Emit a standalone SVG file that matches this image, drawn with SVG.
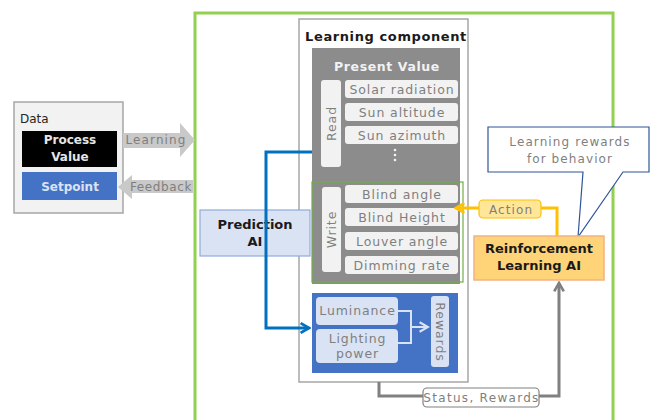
<svg xmlns="http://www.w3.org/2000/svg" width="653" height="420" viewBox="0 0 653 420">
<style>
text{font-family:"DejaVu Sans","Liberation Sans",sans-serif;}
.item{fill:#f2f2f2;}
.it{font-size:12.5px;fill:#7f7f7f;text-anchor:middle;letter-spacing:0.9px;}
.b{font-weight:bold;}
.lbl{font-size:12px;fill:#7f7f7f;text-anchor:middle;letter-spacing:1.1px;}
</style>
<defs>
<marker id="ab" viewBox="0 0 10 10" refX="8" refY="5" markerWidth="4" markerHeight="4" orient="auto"><path d="M1,1 L8,5 L1,9" fill="none" stroke="#0070c0" stroke-width="2.2"/></marker>
<marker id="ao" viewBox="0 0 10 10" refX="8" refY="5" markerWidth="4" markerHeight="4" orient="auto"><path d="M1,1 L8,5 L1,9" fill="none" stroke="#ffc000" stroke-width="2.2"/></marker>
<marker id="ag" viewBox="0 0 10 10" refX="8" refY="5" markerWidth="4" markerHeight="4" orient="auto"><path d="M1,1 L8,5 L1,9" fill="none" stroke="#808080" stroke-width="2.2"/></marker>
<marker id="al" viewBox="0 0 10 10" refX="8" refY="5" markerWidth="6" markerHeight="6" orient="auto"><path d="M1,1 L8,5 L1,9" fill="none" stroke="#dae3f3" stroke-width="1.8"/></marker>
</defs>
<rect width="653" height="420" fill="#ffffff"/>
<!-- green frame -->
<rect x="195" y="13" width="418" height="410" fill="none" stroke="#92d050" stroke-width="3"/>

<g id="data">
<rect x="14" y="102" width="109" height="111" fill="#f2f2f2" stroke="#a6a6a6" stroke-width="1.5"/>
<text x="20" y="123" font-size="12" fill="#262626">Data</text>
<rect x="22" y="131" width="95" height="36" fill="#000000"/>
<text x="70" y="144" font-size="12" fill="#e6e6e6" text-anchor="middle" class="b">Process</text>
<text x="70" y="161" font-size="12" fill="#e6e6e6" text-anchor="middle" class="b">Value</text>
<rect x="22" y="172" width="95" height="28" fill="#4472c4"/>
<text x="70" y="191" font-size="12" fill="#dae3f3" text-anchor="middle" class="b">Setpoint</text>
</g>

<g id="learning-arrow">
<polygon points="123,133 180,133 180,123 195,140 180,157 180,148 123,148" fill="#c9c9c9"/>
<text x="156" y="144" class="lbl" fill="#7f7f7f">Learning</text>
</g>
<g id="feedback-arrow">
<polygon points="193,180 132,180 132,175 118,187 132,199 132,193 193,193" fill="#c9c9c9"/>
<text x="161" y="191" class="lbl" style="letter-spacing:0.6px">Feedback</text>
</g>

<g id="learning-component">
<rect x="299" y="19" width="169" height="363" fill="#ffffff" stroke="#a6a6a6" stroke-width="1.5"/>
<text x="386" y="41" font-size="13" fill="#1a1a1a" text-anchor="middle" class="b" letter-spacing="0.6">Learning component</text>
</g>

<g id="present-value">
<rect x="312" y="48" width="148" height="236" fill="#8c8c8c"/>
<text x="387" y="71" font-size="12.5" fill="#f2f2f2" text-anchor="middle" class="b" letter-spacing="0.6">Present Value</text>
<rect x="321" y="80" width="20" height="87" rx="3" class="item"/>
<text transform="translate(335.5,123.5) rotate(-90)" class="it">Read</text>
<rect x="345" y="80" width="113" height="18" rx="3" class="item"/>
<text x="402" y="94" class="it">Solar radiation</text>
<rect x="345" y="103" width="113" height="18" rx="3" class="item"/>
<text x="402" y="117" class="it">Sun altitude</text>
<rect x="345" y="126" width="113" height="18" rx="3" class="item"/>
<text x="402" y="140" class="it">Sun azimuth</text>
<g fill="#f2f2f2"><circle cx="395" cy="150" r="1.3"/><circle cx="395" cy="155" r="1.3"/><circle cx="395" cy="160" r="1.3"/></g>
</g>

<g id="write">
<rect x="312" y="182" width="151" height="100" fill="none" stroke="#70ad47" stroke-width="1.2"/>
<rect x="322" y="187" width="19" height="85" rx="3" class="item"/>
<text transform="translate(336,229.5) rotate(-90)" class="it">Write</text>
<rect x="345" y="185" width="113" height="18" rx="3" class="item"/>
<text x="402" y="199" class="it">Blind angle</text>
<rect x="345" y="208" width="113" height="18" rx="3" class="item"/>
<text x="402" y="222" class="it">Blind Height</text>
<rect x="345" y="232" width="113" height="18" rx="3" class="item"/>
<text x="402" y="246" class="it">Louver angle</text>
<rect x="345" y="256" width="113" height="18" rx="3" class="item"/>
<text x="402" y="270" class="it">Dimming rate</text>
</g>

<g id="rewards-box">
<rect x="312" y="293" width="146" height="80" fill="#4472c4"/>
<rect x="316" y="297" width="82" height="28" rx="4" fill="#dae3f3"/>
<text x="357.5" y="315" class="it">Luminance</text>
<rect x="316" y="329" width="82" height="34" rx="4" fill="#dae3f3"/>
<text x="357.5" y="343" class="it">Lighting</text>
<text x="357.5" y="358" class="it">power</text>
<rect x="431" y="296" width="18" height="71" rx="3" fill="#dae3f3"/>
<text transform="translate(435.5,332) rotate(90)" class="it">Rewards</text>
<path d="M398,311 H411 V343 H398" fill="none" stroke="#dae3f3" stroke-width="2"/>
<path d="M411,327 H428" fill="none" stroke="#dae3f3" stroke-width="2" marker-end="url(#al)"/>
</g>

<g id="prediction-ai">
<rect x="200" y="210" width="110" height="46" fill="#dae3f3" stroke="#8faadc" stroke-width="1.2"/>
<text x="255" y="229" font-size="13" fill="#1a1a1a" text-anchor="middle" class="b">Prediction</text>
<text x="255" y="246" font-size="13" fill="#1a1a1a" text-anchor="middle" class="b">AI</text>
</g>

<g id="callout">
<path d="M488,127 H649 V172 H623 L578,237 L583,172 H488 Z" fill="#ffffff" stroke="#2f5597" stroke-width="1.2"/>
<text x="570" y="146" class="lbl" font-size="12.5">Learning rewards</text>
<text x="570" y="163" class="lbl" font-size="12.5">for behavior</text>
</g>

<g id="rl-ai">
<rect x="474" y="236" width="130" height="44" fill="#ffd479" stroke="#f4b183" stroke-width="1.5"/>
<text x="539" y="253" font-size="13" fill="#1a1a1a" text-anchor="middle" class="b">Reinforcement</text>
<text x="539" y="270" font-size="13" fill="#1a1a1a" text-anchor="middle" class="b">Learning AI</text>
</g>

<g id="connectors">
<path d="M312,152 H266 V328 H309" fill="none" stroke="#0070c0" stroke-width="3" marker-end="url(#ab)"/>
<path d="M557,236 V208 H456" fill="none" stroke="#ffc000" stroke-width="3" marker-end="url(#ao)"/>
<rect x="479" y="200" width="62" height="18" rx="4" fill="#ffe699" stroke="#ffc000" stroke-width="1.2"/>
<text x="511" y="214" class="lbl">Action</text>
<path d="M379,382 V396 H559 V283" fill="none" stroke="#808080" stroke-width="3" marker-end="url(#ag)"/>
<rect x="423" y="388" width="116" height="19" rx="4" fill="#ffffff" stroke="#808080" stroke-width="1.2"/>
<text x="481.5" y="402" class="lbl" style="letter-spacing:1.3px">Status, Rewards</text>
</g>
</svg>
